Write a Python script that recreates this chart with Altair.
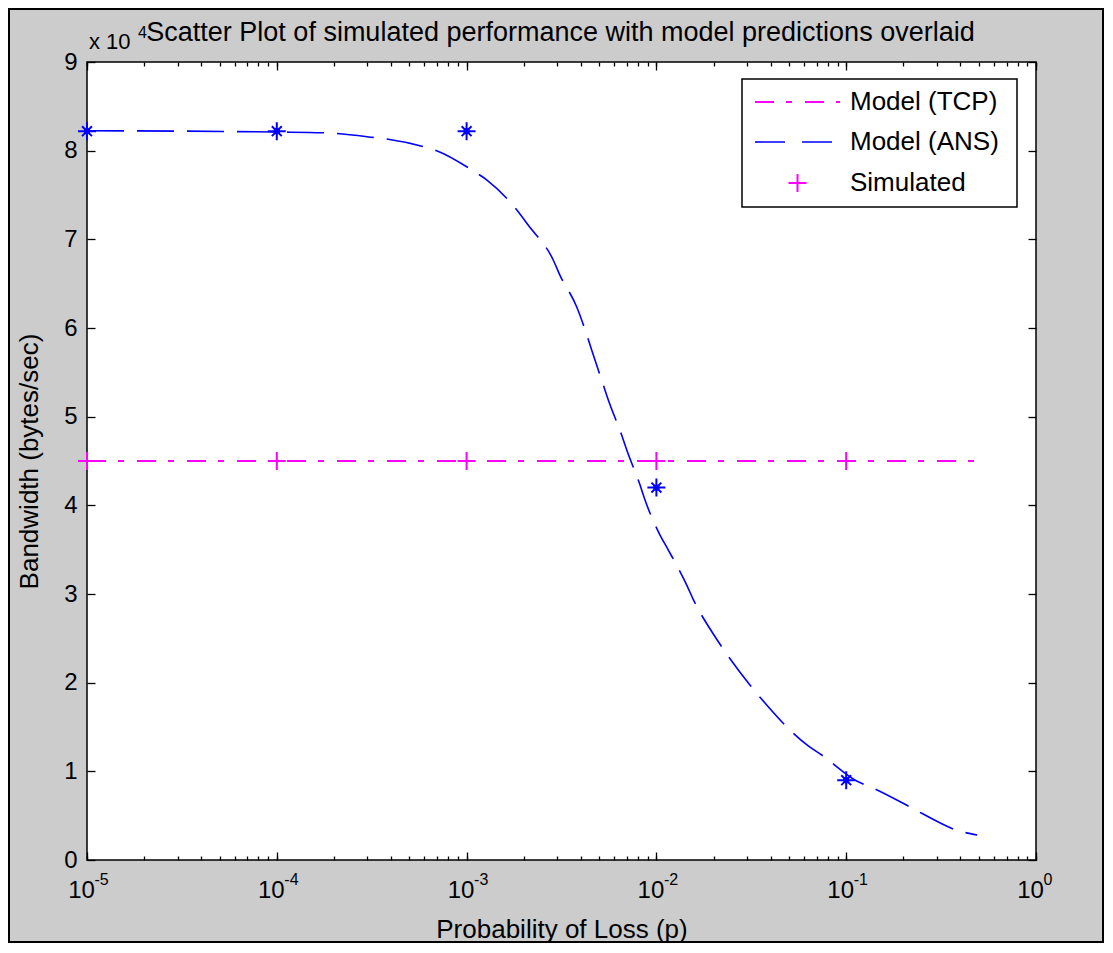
import altair as alt
import pandas as pd

# ---------------- data ----------------
ans_p = [1e-5, 1e-4, 1.75e-4, 3.21e-4, 3.79e-4, 5.92e-4, 6.95e-4, 1.08e-3, 1.28e-3,
         1.84e-3, 2.11e-3, 2.86e-3, 3.10e-3, 3.80e-3, 4.30e-3, 4.56e-3, 5.25e-3,
         5.58e-3, 6.56e-3, 6.98e-3, 8.20e-3, 8.71e-3, 1.045e-2, 1.156e-2, 1.445e-2,
         1.563e-2, 2.01e-2, 2.27e-2, 3.11e-2, 3.59e-2, 6.31e-2, 7.43e-2, 0.1135,
         0.139, 0.212, 0.250, 0.390, 0.49]
ans_bw = [82250, 82100, 82020, 81500, 81310, 80450, 80000, 77740, 76690,
          73310, 71610, 67670, 65970, 62400, 59210, 57520, 53570,
          51880, 47930, 46240, 42290, 40600, 36650, 34960, 31010,
          29400, 25370, 23680, 19740, 18120, 12860, 11840, 8910,
          8090, 6090, 5270, 3300, 2820]

tcp_p = [1e-5, 0.49]
tcp_bw = [45000, 45000]

sim_p = [1e-5, 1e-4, 1e-3, 1e-2, 1e-1]
sim_tcp_bw = [45000, 45000, 45000, 45000, 45000]
sim_ans_bw = [82200, 82200, 82200, 42000, 9000]

decade_ticks = [1e-5, 1e-4, 1e-3, 1e-2, 1e-1, 1.0]
y_ticks = [0, 10000, 20000, 30000, 40000, 50000, 60000, 70000, 80000, 90000]

title_text = "Scatter Plot of simulated performance with model predictions overlaid"
x_title = "Probability of Loss (p)"
y_title = "Bandwidth (bytes/sec)"
legend_labels = ["Model (TCP)", "Model (ANS)", "Simulated"]

# ---------------- styling ----------------
W, H = 949, 798
PAD_B = 83
FONT = "Liberation Sans"
MAGENTA = "#ff00ff"
BLUE = "#0000ff"
PLUS = "M-1,0L1,0M0,-1L0,1"
STAR = "M-1,0L1,0M0,-1L0,1M-0.55,-0.55L0.55,0.55M-0.55,0.55L0.55,-0.55"

minor_ticks = [m * d for d in decade_ticks[:-1] for m in range(1, 10)] + [1.0]

ans_df = pd.DataFrame({"p": ans_p, "bw": ans_bw})
tcp_df = pd.DataFrame({"p": tcp_p, "bw": tcp_bw})
sim_tcp_df = pd.DataFrame({"p": sim_p, "bw": sim_tcp_bw})
sim_ans_df = pd.DataFrame({"p": sim_p, "bw": sim_ans_bw})
one = pd.DataFrame({"k": [0]})

xscale = alt.Scale(type="log", domain=[1e-5, 1], nice=False)
yscale = alt.Scale(domain=[0, 90000], nice=False, zero=False)

common = dict(domain=False, grid=False, tickColor="black", tickWidth=1.3,
              labelFont=FONT, labelColor="black", labelFlush=False,
              labelOverlap=False, labelBound=False)

EXP = ("abs(datum.value / pow(10, round(log(datum.value) / LN10)) - 1) < 1e-6 "
       "? '' + round(log(datum.value) / LN10) : ''")

ax_bottom_major = alt.Axis(orient="bottom", values=decade_ticks, offset=-8, tickSize=8,
                           labelExpr="'10'", labelFontSize=24, labelOffset=-6,
                           labelPadding=18, title=x_title, titleFont=FONT,
                           titleFontSize=26, titleFontWeight="normal",
                           titleColor="black", titlePadding=14, **common)
ax_bottom_minor = alt.Axis(orient="bottom", values=minor_ticks, offset=-4, tickSize=4,
                           labelExpr=EXP, labelFontSize=16, labelAlign="left",
                           labelOffset=7, labelPadding=11, title=None, **common)
ax_top_major = alt.Axis(orient="top", values=decade_ticks, offset=-8, tickSize=8,
                        labels=False, title=None, **common)
ax_top_minor = alt.Axis(orient="top", values=minor_ticks, offset=-4, tickSize=4,
                        labels=False, title=None, **common)
ax_left = alt.Axis(orient="left", values=y_ticks, offset=-8, tickSize=8,
                   labelExpr="datum.value / 10000", labelFontSize=24, labelPadding=10,
                   title=y_title, titleFont=FONT, titleFontSize=26,
                   titleFontWeight="normal", titleColor="black", titlePadding=21,
                   **common)
ax_right = alt.Axis(orient="right", values=y_ticks, offset=-8, tickSize=8,
                    labels=False, title=None, **common)

# ---------------- data layers ----------------
tcp_line = alt.Chart(tcp_df).mark_line(color=MAGENTA, strokeWidth=1.8,
                                       strokeDash=[19, 12, 6, 13]).encode(
    x=alt.X("p:Q", scale=xscale, axis=ax_bottom_major),
    y=alt.Y("bw:Q", scale=yscale, axis=ax_left))

ans_line = alt.Chart(ans_df).mark_line(color=BLUE, strokeWidth=1.6,
                                       strokeDash=[37, 13],
                                       interpolate="monotone").encode(
    x=alt.X("p:Q", scale=xscale, axis=ax_bottom_minor),
    y=alt.Y("bw:Q", scale=yscale, axis=ax_right))

sim_tcp_pts = alt.Chart(sim_tcp_df).mark_point(shape=PLUS, size=324, color=MAGENTA,
                                               strokeWidth=2, opacity=1,
                                               filled=False).encode(
    x=alt.X("p:Q", scale=xscale, axis=ax_top_major),
    y=alt.Y("bw:Q", scale=yscale, axis=None))

sim_ans_pts = alt.Chart(sim_ans_df).mark_point(shape=STAR, size=324, color=BLUE,
                                               strokeWidth=2, opacity=1,
                                               filled=False).encode(
    x=alt.X("p:Q", scale=xscale, axis=ax_top_minor),
    y=alt.Y("bw:Q", scale=yscale, axis=None))

sim_ans_dot = alt.Chart(sim_ans_df).mark_point(shape="circle", size=40, color=BLUE,
                                               filled=True, opacity=1).encode(
    x=alt.X("p:Q", scale=xscale, axis=None),
    y=alt.Y("bw:Q", scale=yscale, axis=None))

# ---------------- legend (drawn by hand, MATLAB style) ----------------
LX0, LX1, LY0, LY1 = 655, 930, 17, 145
rows = [40, 80, 121]
sx0, sx1, tx = 668, 753, 763

leg_box = alt.Chart(one).mark_rect(fill="white", stroke="black", strokeWidth=1.5).encode(
    x=alt.value(LX0), x2=alt.value(LX1), y=alt.value(LY0), y2=alt.value(LY1))
leg_tcp = alt.Chart(one).mark_rule(color=MAGENTA, strokeWidth=1.8,
                                   strokeDash=[19, 12, 6, 13]).encode(
    x=alt.value(sx0), x2=alt.value(sx1), y=alt.value(rows[0]))
leg_ans = alt.Chart(one).mark_rule(color=BLUE, strokeWidth=1.6,
                                   strokeDash=[30, 17]).encode(
    x=alt.value(sx0), x2=alt.value(sx1), y=alt.value(rows[1]))
leg_plus = alt.Chart(one).mark_point(shape=PLUS, size=324, color=MAGENTA, strokeWidth=2,
                                     opacity=1, filled=False).encode(
    x=alt.value((sx0 + sx1) / 2), y=alt.value(rows[2]))
leg_texts = [
    alt.Chart(one).mark_text(text=lab, font=FONT, fontSize=26, color="black",
                             align="left", baseline="middle").encode(
        x=alt.value(tx), y=alt.value(r))
    for lab, r in zip(legend_labels, rows)
]

# ---------------- title, "x 10^4" multiplier and figure frame ----------------
title_mark = alt.Chart(one).mark_text(text=title_text, font=FONT, fontSize=27,
                                      color="black", align="center",
                                      baseline="middle").encode(
    x=alt.value(W / 2 - 1), y=alt.value(-29))
mult = alt.Chart(one).mark_text(text="x 10", font=FONT, fontSize=22, color="black",
                                align="left", baseline="alphabetic").encode(
    x=alt.value(2), y=alt.value(-13))
mult_exp = alt.Chart(one).mark_text(text="4", font=FONT, fontSize=16, color="black",
                                    align="left", baseline="alphabetic").encode(
    x=alt.value(51), y=alt.value(-24))
frame = alt.Chart(one).mark_rect(fill="transparent", stroke="black", strokeWidth=2).encode(
    x=alt.value(-78), x2=alt.value(W + 67), y=alt.value(-53), y2=alt.value(H + PAD_B - 1))

chart = alt.layer(
    frame, tcp_line, ans_line, sim_tcp_pts, sim_ans_pts, sim_ans_dot,
    leg_box, leg_tcp, leg_ans, leg_plus, *leg_texts, title_mark, mult, mult_exp,
).resolve_axis(x="independent", y="independent").properties(
    width=W, height=H,
    background="#cccccc",
    padding={"left": 79, "top": 54, "right": 68, "bottom": PAD_B},
    autosize=alt.AutoSizeParams(type="none"),
).configure_view(fill="white", stroke="black", strokeWidth=1.5)

chart.save("out.html", embed_options={"renderer": "svg", "actions": False})
